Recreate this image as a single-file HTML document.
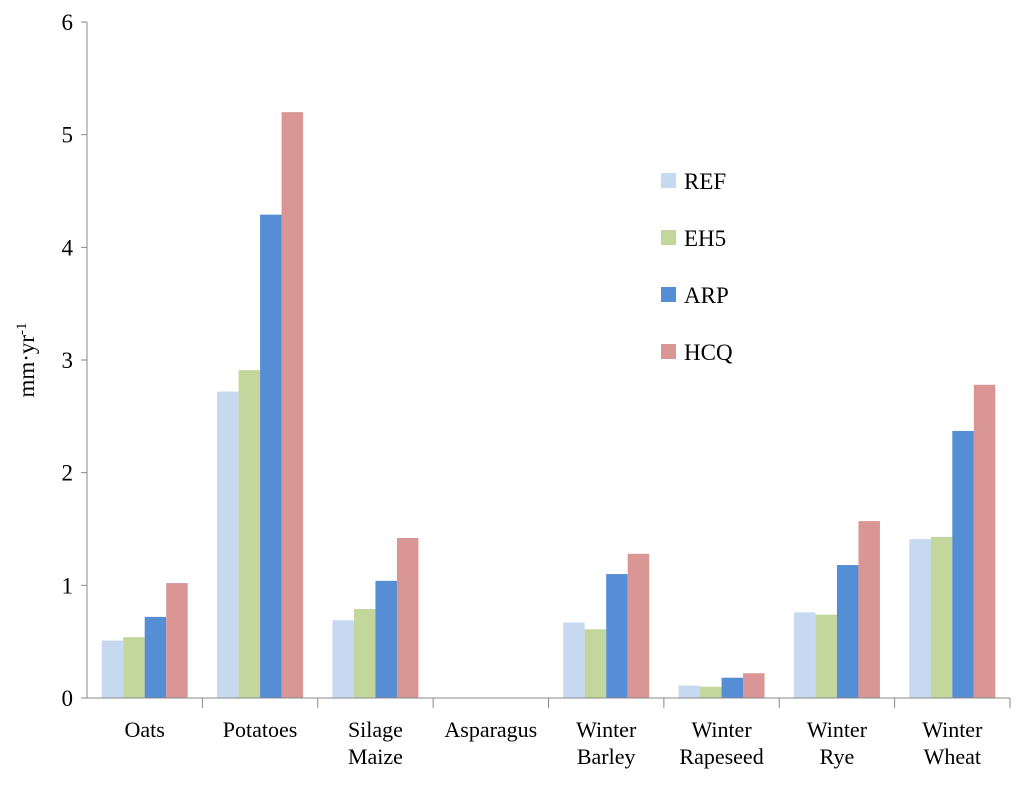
<!DOCTYPE html>
<html><head><meta charset="utf-8"><style>
body{margin:0;background:#fff;}
svg text{font-family:"Liberation Serif",serif;fill:#000;}
</style></head><body>
<svg id="c" width="1024" height="782"></svg>
<script>
const categories=[["Oats"],["Potatoes"],["Silage","Maize"],["Asparagus"],["Winter","Barley"],["Winter","Rapeseed"],["Winter","Rye"],["Winter","Wheat"]];
const seriesNames=["REF","EH5","ARP","HCQ"];
const refVals=[0.51,2.72,0.69,0,0.67,0.11,0.76,1.41];
const eh5Vals=[0.54,2.91,0.79,0,0.61,0.10,0.74,1.43];
const arpVals=[0.72,4.29,1.04,0,1.10,0.18,1.18,2.37];
const hcqVals=[1.02,5.20,1.42,0,1.28,0.22,1.57,2.78];
const yTicks=[0,1,2,3,4,5,6];
const colors=["#c6d9f1","#c3d69b","#558ed5","#d99694"];
const series=[refVals,eh5Vals,arpVals,hcqVals];
const svg=document.getElementById('c');
const NS="http://www.w3.org/2000/svg";
const x0=87,x1=1010,y0=698,yTop=22;
const yS=v=>y0-(y0-yTop)*v/6;
const cw=(x1-x0)/categories.length;
function mk(t,a,p){const e=document.createElementNS(NS,t);for(const k in a)e.setAttribute(k,a[k]);(p||svg).appendChild(e);return e;}
yTicks.forEach(t=>{
 const tk=mk('line',{x1:x0-6,x2:x0,y1:yS(t),y2:yS(t),stroke:'#888'});
 
 
 const tx=mk('text',{x:x0-14,y:yS(t)+8,'text-anchor':'end','font-size':23});
 tx.textContent=t;
 
 
});
const bw=21.5;
categories.forEach((c,i)=>{
 const cx=x0+cw*i+cw/2;
 series.forEach((s,j)=>{
  const v=s[i];
  const r=mk('rect',{x:cx-2*bw+j*bw,y:yS(v),width:bw,height:y0-yS(v),fill:colors[j]});
  
  
 });
 const t=mk('line',{x1:x0+cw*(i+1),x2:x0+cw*(i+1),y1:y0,y2:y0+10,stroke:'#888'});
 
 
 c.forEach((ln,k)=>{
  const tx=mk('text',{x:cx,y:737+k*27,'text-anchor':'middle','font-size':22});
  tx.textContent=ln;
  
  
 });
});
const ax=mk('line',{x1:x0,x2:x0,y1:yTop,y2:y0,stroke:'#888'});


const bx=mk('line',{x1:x0,x2:x1,y1:y0,y2:y0,stroke:'#888'});


const yt=mk('text',{x:0,y:0,'font-size':23,transform:'translate(34,360) rotate(-90)','text-anchor':'middle'});
yt.innerHTML='mm·yr<tspan dy="-8" font-size="15">-1</tspan>';


seriesNames.forEach((n,j)=>{
 const y=181+j*57;
 const r=mk('rect',{x:661,y:y-8,width:15,height:15,fill:colors[j]});
 
 
 const t=mk('text',{x:684,y:y+8,'font-size':23});
 t.textContent=n;
 
 
});
</script>
</body></html>
